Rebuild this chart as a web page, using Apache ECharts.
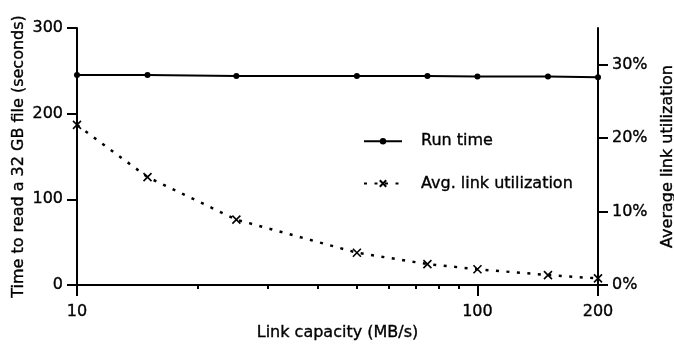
<!DOCTYPE html>
<html>
<head>
<meta charset="utf-8">
<script src="https://cdn.jsdelivr.net/npm/echarts@6/dist/echarts.min.js"></script>
<style>
  html, body { margin: 0; padding: 0; background: #fff; }
  #chart { width: 674px; height: 346px; }
</style>
</head>
<body>
<div id="chart"></div>
<script>
// Link capacity (MB/s) for each run
const capacities = [10, 15, 25, 50, 75, 100, 150, 200];
// Time to read a 32 GB file (seconds)
const runTimes = [245, 245, 244, 244, 244, 243.5, 243.5, 242.5];
// Average link utilization (%)
const utilization = [21.8, 14.7, 8.9, 4.4, 2.85, 2.15, 1.35, 0.9];

// Axis tick values
const xLabelTicks = [10, 100, 200];
const xMinorTicks = [20, 30, 40, 50, 60, 70, 80, 90];
const leftTicks = [0, 100, 200, 300];
const rightTicks = [0, 10, 20, 30];

const FONT = 'DejaVu Sans';
const INK = '#000';

const runData = capacities.map((c, i) => [c, runTimes[i]]);
const utilData = capacities.map((c, i) => [c, utilization[i]]);

const chart = echarts.init(document.getElementById('chart'), null, { renderer: 'canvas' });

// slightly heavier glyphs for all text
const txt = { color: INK, fontFamily: FONT, fontSize: 16, textBorderColor: INK, textBorderWidth: 0.35 };

chart.setOption({
  animation: false,
  backgroundColor: '#fff',
  textStyle: txt,
  grid: { left: 77, right: 76, top: 28, bottom: 61, containLabel: false, outerBoundsMode: 'none' },
  legend: {
    orient: 'vertical',
    left: 363,
    top: 133,
    padding: 0,
    itemWidth: 38,
    itemHeight: 8,
    itemGap: 26,
    textStyle: Object.assign({}, txt, { padding: [0, 0, 0, 14] }),
    data: ['Run time', 'Avg. link utilization']
  },
  xAxis: [
    {
      type: 'log',
      logBase: 10,
      min: 10,
      max: 200,
      position: 'bottom',
      name: 'Link capacity (MB/s)',
      nameLocation: 'middle',
      nameGap: 36,
      nameTextStyle: txt,
      axisLine: { show: true, lineStyle: { color: INK, width: 2 } },
      axisTick: { show: true, customValues: xLabelTicks, length: 11, lineStyle: { color: INK, width: 2 } },
      axisLabel: Object.assign({ customValues: xLabelTicks, margin: 19 }, txt),
      splitLine: { show: false },
      minorTick: { show: false }
    },
    {
      type: 'log',
      logBase: 10,
      min: 10,
      max: 200,
      position: 'bottom',
      axisLine: { show: false },
      axisTick: { show: true, customValues: xMinorTicks, length: 4, lineStyle: { color: INK, width: 2 } },
      axisLabel: { show: false },
      splitLine: { show: false }
    }
  ],
  yAxis: [
    {
      type: 'value',
      min: 0,
      max: 300,
      interval: 100,
      position: 'left',
      name: 'Time to read a 32 GB file (seconds)',
      nameLocation: 'middle',
      nameRotate: 90,
      nameGap: 50,
      nameMoveOverlap: false,
      nameTextStyle: txt,
      axisLine: { show: true, lineStyle: { color: INK, width: 2 } },
      axisTick: { show: true, customValues: leftTicks, length: 10, lineStyle: { color: INK, width: 2 } },
      axisLabel: Object.assign({ customValues: leftTicks, margin: 14 }, txt),
      splitLine: { show: false }
    },
    {
      type: 'value',
      min: 0,
      max: 35,
      position: 'right',
      name: 'Average link utilization',
      nameLocation: 'middle',
      nameRotate: 90,
      nameGap: 62,
      nameMoveOverlap: false,
      nameTextStyle: txt,
      axisLine: { show: true, lineStyle: { color: INK, width: 2 } },
      axisTick: { show: true, customValues: rightTicks, length: 10, lineStyle: { color: INK, width: 2 } },
      axisLabel: Object.assign({ customValues: rightTicks, margin: 14, formatter: '{value}%' }, txt),
      splitLine: { show: false }
    }
  ],
  series: [
    {
      name: 'Run time',
      type: 'line',
      xAxisIndex: 0,
      yAxisIndex: 0,
      data: runData,
      symbol: 'circle',
      symbolSize: 6,
      showSymbol: true,
      lineStyle: { color: INK, width: 2 },
      itemStyle: { color: INK },
      z: 3
    },
    {
      name: 'Avg. link utilization',
      type: 'line',
      xAxisIndex: 0,
      yAxisIndex: 1,
      data: utilData,
      symbol: 'path://M0,0L10,10M10,0L0,10',
      symbolSize: 8,
      showSymbol: true,
      lineStyle: { color: INK, width: 2.5, type: [3, 7.5], cap: 'butt' },
      itemStyle: { color: 'none', borderColor: INK, borderWidth: 1.6 },
      z: 3
    }
  ]
});
</script>
</body>
</html>
